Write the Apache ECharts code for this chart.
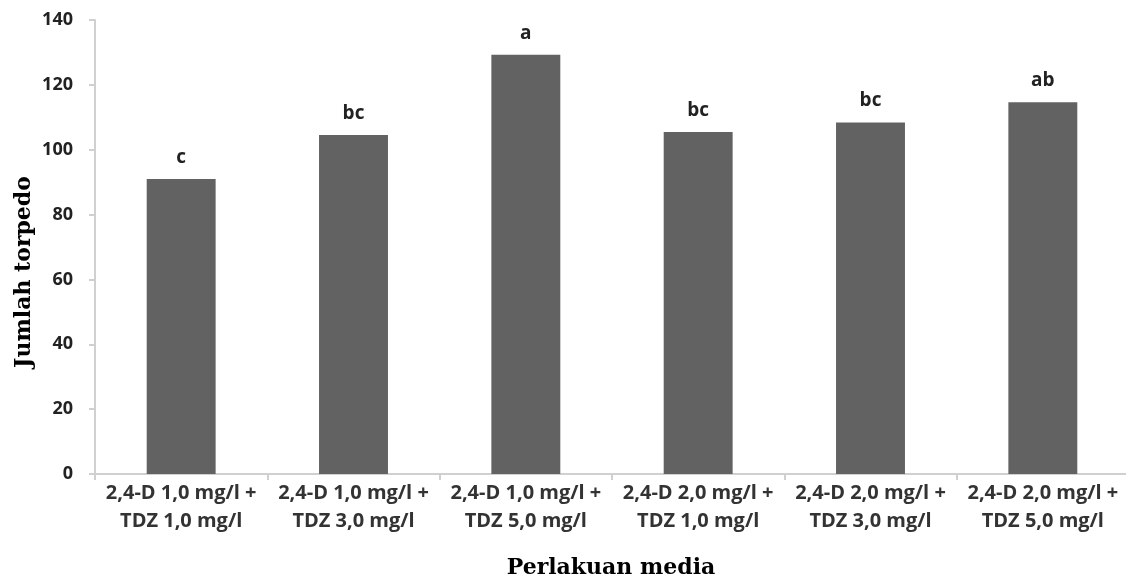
<!DOCTYPE html>
<html><head><meta charset="utf-8">
<script src="https://cdn.jsdelivr.net/npm/echarts@6/dist/echarts.min.js"></script>
<style>html,body{margin:0;padding:0;background:#fff}#c{width:1126px;height:584px}</style>
</head><body><div id="c"></div>
<script>
const categories = [
  "2,4-D 1,0 mg/l +\nTDZ 1,0 mg/l",
  "2,4-D 1,0 mg/l +\nTDZ 3,0 mg/l",
  "2,4-D 1,0 mg/l +\nTDZ 5,0 mg/l",
  "2,4-D 2,0 mg/l +\nTDZ 1,0 mg/l",
  "2,4-D 2,0 mg/l +\nTDZ 3,0 mg/l",
  "2,4-D 2,0 mg/l +\nTDZ 5,0 mg/l"
];
const values = [91, 104.5, 129.3, 105.5, 108.4, 114.6];
const letters = ["c", "bc", "a", "bc", "bc", "ab"];
const yTicks = [0, 20, 40, 60, 80, 100, 120, 140];
const xTitle = 'Perlakuan media';
const yTitle = 'Jumlah torpedo';

const titleFont = {fontFamily: 'DejaVu Serif, Liberation Serif, serif', fontWeight: 'bold', fontSize: 22, fill: '#000'};

const chart = echarts.init(document.getElementById('c'), null, {renderer: 'canvas'});
chart.setOption({
  animation: false,
  grid: {left: 95, top: 20, width: 1034, height: 454, containLabel: false, outerBoundsMode: 'none'},
  xAxis: {
    type: 'category',
    data: categories,
    axisLine: {lineStyle: {color: '#d0d0d0', width: 2}},
    axisTick: {show: true, length: 6, lineStyle: {color: '#d0d0d0', width: 2}},
    axisLabel: {fontFamily: 'Open Sans, sans-serif', fontWeight: 'bold', fontSize: 20, color: '#333', lineHeight: 28, margin: 5, interval: 0}
  },
  yAxis: {
    type: 'value',
    min: 0, max: 140, interval: 20,
    axisLine: {show: true, lineStyle: {color: '#d0d0d0', width: 2}},
    axisTick: {show: true, length: 6, lineStyle: {color: '#d0d0d0', width: 2}},
    splitLine: {show: false},
    axisLabel: {fontFamily: 'Open Sans, sans-serif', fontWeight: 'bold', fontSize: 18, color: '#222', margin: 22,
      formatter: v => yTicks.includes(v) ? String(v) : ''}
  },
  graphic: [
    {type: 'text', x: 611, y: 568, style: Object.assign({text: xTitle, align: 'center', verticalAlign: 'middle'}, titleFont)},
    {type: 'text', x: 24, y: 272, rotation: Math.PI / 2, style: Object.assign({text: yTitle, align: 'center', verticalAlign: 'middle'}, titleFont)}
  ],
  series: [{
    type: 'bar',
    data: values,
    barWidth: '40%',
    itemStyle: {color: '#626262'},
    label: {
      show: true, position: 'top', distance: 12,
      fontFamily: 'Open Sans, sans-serif', fontWeight: 'bold', fontSize: 19, color: '#222',
      formatter: p => letters[p.dataIndex]
    }
  }]
});
</script></body></html>
